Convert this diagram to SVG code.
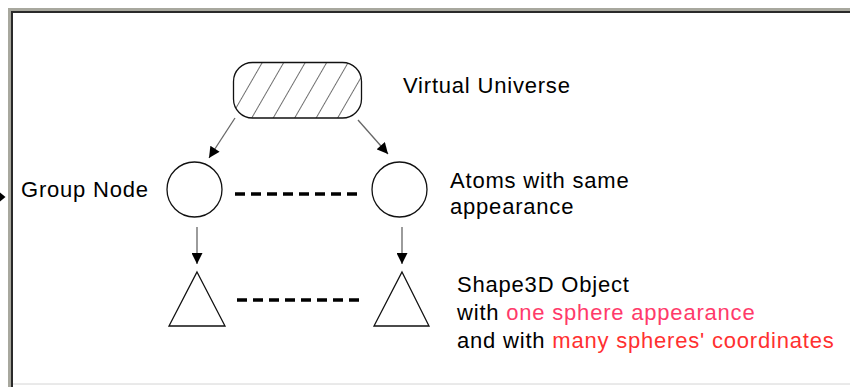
<svg xmlns="http://www.w3.org/2000/svg" width="850" height="387" viewBox="0 0 850 387">
<style>
.t{font-family:"Liberation Sans",Arial,sans-serif;font-size:22px;letter-spacing:0.8px;fill:#000}
.pink{fill:#ff3a6a}
.red{fill:#ff3030}
.shape{fill:#fff;stroke:#111;stroke-width:1.3}
.arr{stroke:#666;stroke-width:1.3;fill:none;marker-end:url(#ah)}
.dash{stroke:#000;stroke-width:3.5;stroke-dasharray:10 6;fill:none}
</style>
<defs>
<marker id="ah" viewBox="0 0 10 10" refX="10" refY="5" markerWidth="12" markerHeight="11" markerUnits="userSpaceOnUse" orient="auto">
<path d="M0,0 L10,5 L0,10 Z" fill="#000"/>
</marker>
<pattern id="hatch" patternUnits="userSpaceOnUse" width="18.6" height="10" patternTransform="translate(262,62) rotate(30)">
<line x1="0" y1="-5" x2="0" y2="15" stroke="#111" stroke-width="1.2"/>
</pattern>
</defs>
<rect x="0" y="0" width="850" height="387" fill="#fff"/>
<g id="frame">
<rect x="8" y="8" width="842" height="379" fill="#a8a89e"/>
<rect x="11" y="11" width="839" height="376" fill="#2a2a2a"/>
<rect x="13" y="13" width="837" height="374" fill="#fff"/>
<line x1="13" y1="384" x2="850" y2="384" stroke="#d4d4d4" stroke-width="1"/>
<path d="M0,192.5 L5.5,197 L0,201.5 Z" fill="#000"/>
</g>
<g id="connectors">
<line class="arr" x1="235" y1="118" x2="209" y2="158"/>
<line class="arr" x1="358" y1="120" x2="388" y2="154"/>
<line class="arr" x1="197" y1="227" x2="197" y2="264"/>
<line class="arr" x1="402" y1="227" x2="402" y2="264"/>
<line class="dash" x1="235" y1="194" x2="361" y2="194"/>
<line class="dash" x1="237" y1="300" x2="363" y2="300"/>
</g>
<g id="virtual-universe">
<rect x="233.5" y="62.5" width="128" height="55.5" rx="19" ry="19" fill="#fff"/>
<rect x="233.5" y="62.5" width="128" height="55.5" rx="19" ry="19" fill="url(#hatch)" stroke="#111" stroke-width="1.3"/>
<text class="t" x="403" y="93">Virtual Universe</text>
</g>
<g id="group-node">
<circle class="shape" cx="194.5" cy="189.5" r="27.5"/>
<text class="t" x="21" y="197">Group Node</text>
</g>
<g id="atoms">
<circle class="shape" cx="399.5" cy="189.5" r="27.5"/>
<text class="t" x="450" y="188">Atoms with same</text>
<text class="t" x="450" y="214">appearance</text>
</g>
<g id="shape3d-left">
<path class="shape" d="M197,272 L225,326 L169,326 Z"/>
</g>
<g id="shape3d-right">
<path class="shape" d="M402,272 L429,326 L374,326 Z"/>
<text class="t" x="457" y="292">Shape3D Object</text>
<text class="t" x="457" y="320">with <tspan class="pink">one sphere appearance</tspan></text>
<text class="t" x="457" y="348">and with <tspan class="red">many spheres' coordinates</tspan></text>
</g>
</svg>
